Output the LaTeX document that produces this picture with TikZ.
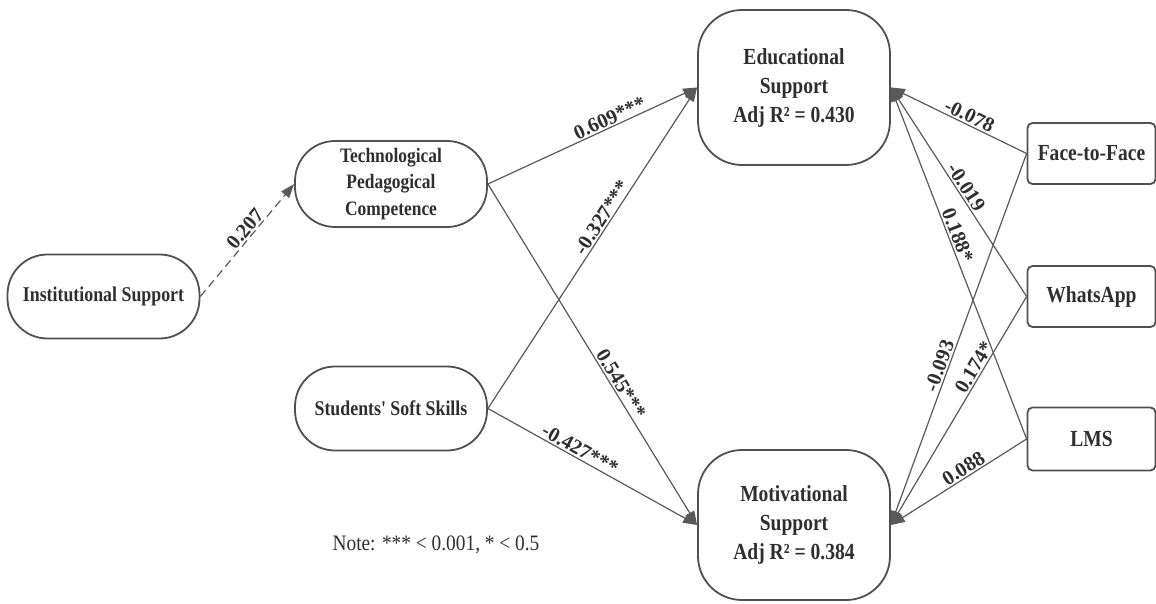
\documentclass[tikz,border=0pt]{standalone}
\usepackage{fontspec}
\setmainfont{Liberation Serif}
\newfontfamily\condfont[FakeStretch=0.85]{Liberation Serif}
\newfontfamily\notefont[FakeStretch=0.88]{Liberation Serif}
\usetikzlibrary{arrows.meta}
\definecolor{boxgray}{HTML}{505050}
\definecolor{linegray}{HTML}{5A5A5A}
\definecolor{txtgray}{HTML}{2E2E2E}
\tikzset{
  stadium/.style={draw=boxgray, line width=1.8pt, rounded corners=40pt, minimum width=192pt, minimum height=84pt, align=center, text=txtgray, inner sep=2pt, font=\condfont\bfseries\fontsize{20.5}{26.7}\selectfont},
  bigbox/.style={draw=boxgray, line width=1.8pt, rounded corners=44pt, minimum width=192pt, align=center, text=txtgray, inner sep=2pt, font=\condfont\bfseries\fontsize{23}{29}\selectfont},
  sidebox/.style={draw=boxgray, line width=1.8pt, rounded corners=5pt, minimum width=128pt, minimum height=61pt, align=center, text=txtgray, font=\condfont\bfseries\fontsize{23}{28}\selectfont},
  conn/.style={draw=linegray, line width=1.2pt, -{Triangle[length=14pt,width=10pt]}},
  dconn/.style={conn, dash pattern=on 8pt off 5pt},
  lab/.style={sloped, above, text=txtgray, inner sep=1.5pt, font=\bfseries\fontsize{20.5}{23}\selectfont}
}
\begin{document}
\begin{tikzpicture}[x=1pt,y=-1pt]
\path[use as bounding box, fill=white] (0,0) rectangle (1156,604);

\node[stadium, font=\condfont\bfseries\fontsize{21}{26}\selectfont] (ins) at (103.5,296.5) {Institutional Support};
\node[stadium, minimum height=86pt] (tpc) at (391,184) {Technological\\Pedagogical\\Competence};
\node[stadium, font=\condfont\bfseries\fontsize{21}{26}\selectfont] (ss) at (391,408.5) {Students' Soft Skills};
\node[bigbox, minimum height=155pt] (edu) at (794,87.5) {Educational\\Support\\Adj R² = 0.430};
\node[bigbox, minimum height=150pt] (mot) at (794,525) {Motivational\\Support\\Adj R² = 0.384};
\node[sidebox] (f2f) at (1091.5,153.5) {Face-to-Face};
\node[sidebox] (wa) at (1091.5,296.5) {WhatsApp};
\node[sidebox, minimum height=63pt] (lms) at (1091.5,439) {LMS};

\node[text=txtgray, font=\notefont\fontsize{22}{26}\selectfont] (note) at (436,545) {Note: *** < 0.001, * < 0.5};

\draw[dconn] (ins.east) -- node[lab, pos=0.55] {0.207} (tpc.west);
\draw[conn] (tpc.east) -- node[lab, pos=0.6] {0.609***} (edu.west);
\draw[conn] (ss.east) -- node[lab, pos=0.58] {-0.327***} (edu.west);
\draw[conn] (tpc.east) -- node[lab, pos=0.6] {0.545***} (mot.west);
\draw[conn] (ss.east) -- node[lab, pos=0.42] {-0.427***} (mot.west);

\draw[conn] (f2f.west) -- node[lab, pos=0.45] {-0.078} (edu.east);
\draw[conn] (wa.west) -- node[lab, pos=0.5] {-0.019} (edu.east);
\draw[conn] (lms.west) -- node[lab, pos=0.57] {0.188*} (edu.east);
\draw[conn] (f2f.west) -- node[lab, pos=0.58] {-0.093} (mot.east);
\draw[conn] (wa.west) -- node[lab, pos=0.33] {0.174*} (mot.east);
\draw[conn] (lms.west) -- node[lab, pos=0.43] {0.088} (mot.east);
\end{tikzpicture}
\end{document}
